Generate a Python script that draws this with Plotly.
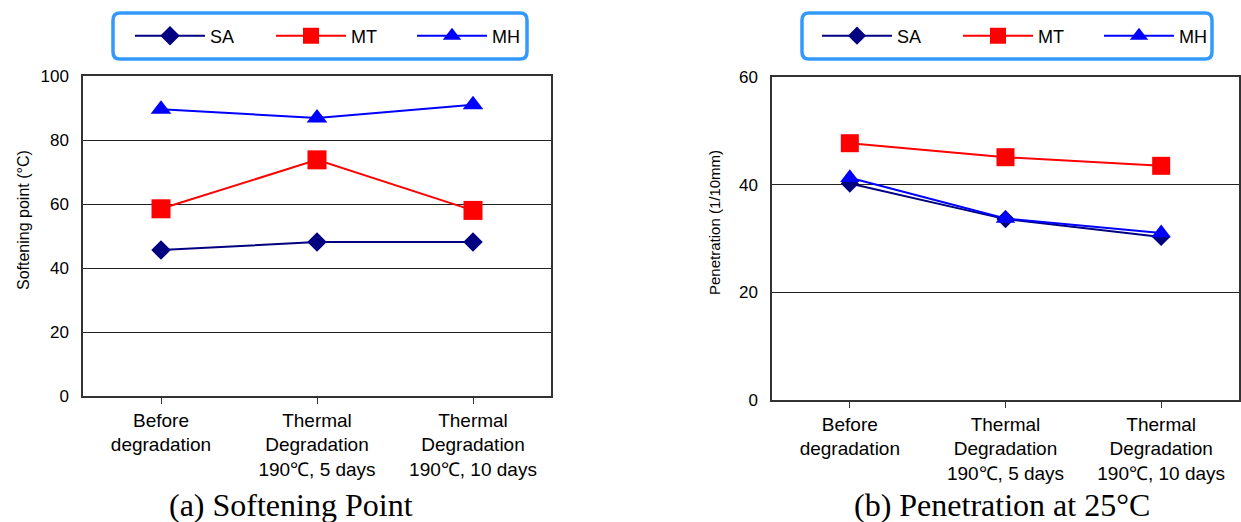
import plotly.graph_objects as go

categories = ["Before<br>degradation",
              "Thermal<br>Degradation<br>190\u2103, 5 days",
              "Thermal<br>Degradation<br>190\u2103, 10 days"]
series_names = ["SA", "MT", "MH"]

soft_SA = [45.6, 48.1, 48.1]
soft_MT = [58.5, 73.8, 58.0]
soft_MH = [89.6, 86.9, 91.0]

pen_SA = [40.2, 33.6, 30.3]
pen_MT = [47.7, 45.1, 43.5]
pen_MH = [41.3, 33.7, 31.0]

W, H = 1241, 522
FONT = "Liberation Sans, Arial, sans-serif"
SERIF = "Liberation Serif, Times New Roman, serif"

colors = {"SA": "#000080", "MT": "#FF0000", "MH": "#0000FF"}
symbols = {"SA": "diamond", "MT": "square", "MH": "triangle-up"}
sizes = {"SA": 15, "MT": 19, "MH": 18}

fig = go.Figure()

def px_x(p):
    return p / W

def px_y(p):
    return 1 - p / H

left_data = {"SA": soft_SA, "MT": soft_MT, "MH": soft_MH}
right_data = {"SA": pen_SA, "MT": pen_MT, "MH": pen_MH}

for name in series_names:
    fig.add_trace(go.Scatter(
        x=categories, y=left_data[name], name=name, mode="lines+markers",
        line=dict(color=colors[name], width=2),
        marker=dict(symbol=symbols[name], size=sizes[name], color=colors[name]),
        xaxis="x", yaxis="y", legend="legend"))
for name in series_names:
    fig.add_trace(go.Scatter(
        x=categories, y=right_data[name], name=name, mode="lines+markers",
        line=dict(color=colors[name], width=2),
        marker=dict(symbol=symbols[name], size=sizes[name] - 1, color=colors[name]),
        xaxis="x2", yaxis="y2", legend="legend2"))

axis_line = dict(showline=True, linecolor="#333333", linewidth=1.5, mirror=True)
xfont = dict(family=FONT, size=19, color="black")
yfont = dict(family=FONT, size=17, color="black")

legend_common = dict(orientation="h", xanchor="left", yanchor="middle",
                     bgcolor="rgba(0,0,0,0)", borderwidth=0,
                     font=dict(family=FONT, size=18, color="black"),
                     itemwidth=70,
                     entrywidth=56, entrywidthmode="pixels", itemsizing="trace")

fig.update_layout(
    width=W, height=H, autosize=False,
    margin=dict(l=0, r=0, t=0, b=0, autoexpand=False),
    paper_bgcolor="white", plot_bgcolor="white",
    font=dict(family=FONT, color="black"),
    xaxis=dict(domain=[px_x(83), px_x(551)], anchor="y", type="category",
               range=[-0.5, 2.5], ticks="outside", ticklen=6, tickcolor="#333",
               showgrid=False, tickfont=xfont, **axis_line),
    yaxis=dict(domain=[px_y(396), px_y(76)], anchor="x", range=[0, 100], dtick=20,
               showgrid=True, gridcolor="#222222", gridwidth=1, ticks="",
               ticklabelstandoff=9, zeroline=False, tickfont=yfont, **axis_line),
    xaxis2=dict(domain=[px_x(772), px_x(1239)], anchor="y2", type="category",
                range=[-0.5, 2.5], ticks="outside", ticklen=6, tickcolor="#333",
                showgrid=False, tickfont=xfont, **axis_line),
    yaxis2=dict(domain=[px_y(400), px_y(77)], anchor="x2", range=[0, 60], dtick=20,
                showgrid=True, gridcolor="#222222", gridwidth=1, ticks="",
                ticklabelstandoff=9, zeroline=False, tickfont=yfont, **axis_line),
    legend=dict(x=px_x(130), y=px_y(36), **legend_common),
    legend2=dict(x=px_x(817), y=px_y(36), **legend_common),
)

def rounded_rect(x0, y0, x1, y1, r):
    def P(x, y):
        return f"{px_x(x):.5f},{px_y(y):.5f}"
    return (f"M{P(x0 + r, y0)} L{P(x1 - r, y0)} Q{P(x1, y0)} {P(x1, y0 + r)} "
            f"L{P(x1, y1 - r)} Q{P(x1, y1)} {P(x1 - r, y1)} "
            f"L{P(x0 + r, y1)} Q{P(x0, y1)} {P(x0, y1 - r)} "
            f"L{P(x0, y0 + r)} Q{P(x0, y0)} {P(x0 + r, y0)} Z")

for (x0, x1) in [(113, 527), (802, 1212)]:
    fig.add_shape(type="path", xref="paper", yref="paper",
                  path=rounded_rect(x0, 13, x1, 59, 7),
                  line=dict(color="#3399FF", width=3.5), fillcolor="rgba(0,0,0,0)")

fig.add_annotation(text="Softening point (\u00b0C)", xref="paper", yref="paper",
                   x=px_x(23), y=px_y(220), textangle=-90, showarrow=False,
                   font=dict(family=FONT, size=16, color="black"),
                   xanchor="center", yanchor="middle")
fig.add_annotation(text="Penetration (1/10mm)", xref="paper", yref="paper",
                   x=px_x(714), y=px_y(223), textangle=-90, showarrow=False,
                   font=dict(family=FONT, size=15, color="black"),
                   xanchor="center", yanchor="middle")
fig.add_annotation(text="(a) Softening Point", xref="paper", yref="paper",
                   x=px_x(291), y=px_y(505), showarrow=False,
                   font=dict(family=SERIF, size=32, color="black"),
                   xanchor="center", yanchor="middle")
fig.add_annotation(text="(b) Penetration at 25\u00b0C", xref="paper", yref="paper",
                   x=px_x(1002), y=px_y(505), showarrow=False,
                   font=dict(family=SERIF, size=32, color="black"),
                   xanchor="center", yanchor="middle")

fig.write_html("out.html", config={"displayModeBar": False},
               post_script="document.body.style.margin='0px';document.body.style.overflow='hidden';")
